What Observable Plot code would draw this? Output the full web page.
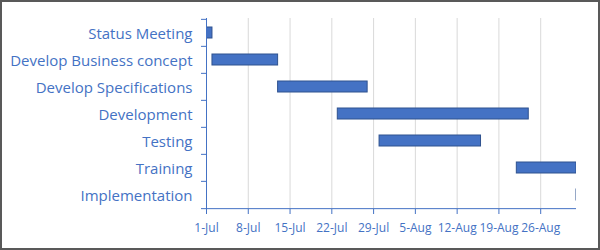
<!DOCTYPE html>
<html><head><meta charset="utf-8">
<script src="https://cdn.jsdelivr.net/npm/d3@7"></script>
<script src="https://cdn.jsdelivr.net/npm/@observablehq/plot@0.6"></script>
<style>
body{margin:0;background:#fff}
#wrap{position:relative;width:600px;height:250px;overflow:hidden;background:#fff}
#border{position:absolute;left:0;top:0;width:600px;height:250px;box-sizing:border-box;border:2px solid #595959;pointer-events:none}
</style></head><body>
<div id="wrap"><div id="chart"></div><div id="border"></div></div>
<script>
const tasks = ["Status Meeting","Develop Business concept","Develop Specifications","Development","Testing","Training","Implementation"];
const starts = ["2019-07-01","2019-07-02","2019-07-13","2019-07-23","2019-07-30","2019-08-22","2019-09-01"];
const ends   = ["2019-07-02","2019-07-13","2019-07-28","2019-08-24","2019-08-16","2019-09-01","2019-09-04"];
const tickDates = ["2019-07-01","2019-07-08","2019-07-15","2019-07-22","2019-07-29","2019-08-05","2019-08-12","2019-08-19","2019-08-26"];
const axisStart = "2019-07-01", axisEnd = "2019-09-01";

const parse = d3.utcParse("%Y-%m-%d");
const fmt = d3.utcFormat("%-d-%b");
const data = tasks.map((t,i)=>({task:t,start:parse(starts[i]),end:parse(ends[i])}));
const ticks = tickDates.map(parse);

const W=600,H=250,mT=18,mB=41,mL=206,mR=24;
const step=(H-mT-mB)/tasks.length;
const blue="#4472C4";
const chart = Plot.plot({
  width:W,height:H,marginTop:mT,marginBottom:mB,marginLeft:mL,marginRight:mR,
  style:{fontFamily:"'Open Sans', sans-serif", background:"transparent", overflow:"visible"},
  x:{type:"utc",domain:[parse(axisStart),parse(axisEnd)]},
  y:{type:"band",domain:tasks,paddingInner:0.6,paddingOuter:0.3},
  marks:[
    Plot.gridX(ticks.slice(1),{stroke:"#d9d9d9",strokeOpacity:1,strokeWidth:1}),
    Plot.barX(data,{x1:"start",x2:"end",y:"task",fill:blue,stroke:"#2F528F",strokeWidth:1,clip:true}),
    Plot.ruleX([parse(axisStart)],{stroke:blue,strokeWidth:1}),
    Plot.ruleY([tasks[tasks.length-1]],{stroke:blue,strokeWidth:1,dy:step/2}),
    Plot.axisY({tickSize:0,tickPadding:14,fontSize:15,color:blue,label:null,dy:1}),
    Plot.axisY({tickSize:5,tickFormat:()=>"",dy:-step/2,color:blue,label:null}),
    Plot.axisY({ticks:[tasks[tasks.length-1]],tickSize:5,tickFormat:()=>"",dy:step/2,color:blue,label:null}),
    Plot.axisX({ticks:ticks,tickFormat:fmt,tickSize:5,tickPadding:9,fontSize:12,color:blue,label:null})
  ]
});
document.getElementById("chart").appendChild(chart);
</script>
</body></html>
